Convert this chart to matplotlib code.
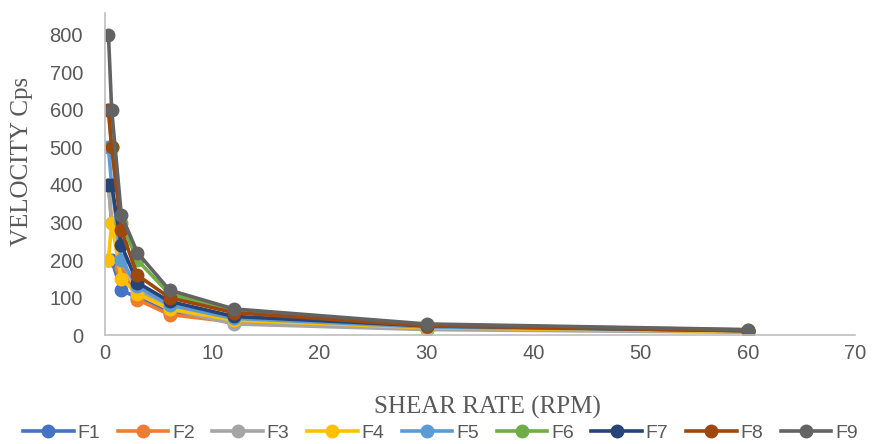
import matplotlib.pyplot as plt

# Shear rate (RPM) readings
shear_rate = [0.3, 0.6, 1.5, 3, 6, 12, 30, 60]

# Viscosity readings for each formulation
f1 = [200, 200, 120, 100, 60, 40, 20, 10]
f2 = [400, 300, 180, 95, 55, 35, 18, 10]
f3 = [400, 300, 200, 120, 70, 30, 15, 8]
f4 = [200, 300, 150, 110, 70, 40, 20, 10]
f5 = [500, 400, 200, 130, 80, 45, 22, 12]
f6 = [600, 500, 300, 200, 110, 65, 28, 14]
f7 = [400, 400, 240, 140, 90, 50, 25, 12]
f8 = [600, 500, 280, 160, 100, 60, 25, 12]
f9 = [800, 600, 320, 220, 120, 70, 30, 15]

series_names = ['F1', 'F2', 'F3', 'F4', 'F5', 'F6', 'F7', 'F8', 'F9']
series_values = [f1, f2, f3, f4, f5, f6, f7, f8, f9]
series_colors = ['#4472C4', '#ED7D31', '#A5A5A5', '#FFC000', '#5B9BD5',
                 '#70AD47', '#264478', '#9E480E', '#636363']

x_ticks = [0, 10, 20, 30, 40, 50, 60, 70]
y_ticks = [0, 100, 200, 300, 400, 500, 600, 700, 800]

fig = plt.figure(figsize=(8.77, 4.44), dpi=100)
ax = fig.add_axes([0.12, 0.245, 0.855, 0.725])

for name, vals, col in zip(series_names, series_values, series_colors):
    ax.plot(shear_rate, vals, color=col, linewidth=2.6, marker='o',
            markersize=9, label=name)

ax.set_xlim(0, 70)
ax.set_ylim(0, 857)
ax.set_xticks(x_ticks)
ax.set_yticks(y_ticks)

for side in ['top', 'right']:
    ax.spines[side].set_visible(False)
for side in ['left', 'bottom']:
    ax.spines[side].set_color('#BFBFBF')
    ax.spines[side].set_linewidth(1.2)

ax.tick_params(length=0, labelsize=14.5, labelcolor='#595959',
               labelfontfamily='Liberation Sans')
ax.tick_params(axis='y', pad=16)
ax.tick_params(axis='x', pad=6)

ax.set_xlabel('SHEAR RATE (RPM)', fontsize=18, family='Liberation Serif',
              color='#595959')
ax.set_ylabel('VELOCITY Cps', fontsize=18, family='Liberation Serif',
              color='#595959')
ax.xaxis.set_label_coords(0.51, -0.19)
ax.yaxis.set_label_coords(-0.096, 0.54)

leg = ax.legend(loc='center', bbox_to_anchor=(0.447, -0.305), ncol=9,
                frameon=False, handlelength=2.6, handletextpad=0.2,
                columnspacing=0.9,
                prop={'family': 'Liberation Sans', 'size': 14})
for t in leg.get_texts():
    t.set_color('#595959')

plt.savefig('out.png', dpi=100)
plt.close()
